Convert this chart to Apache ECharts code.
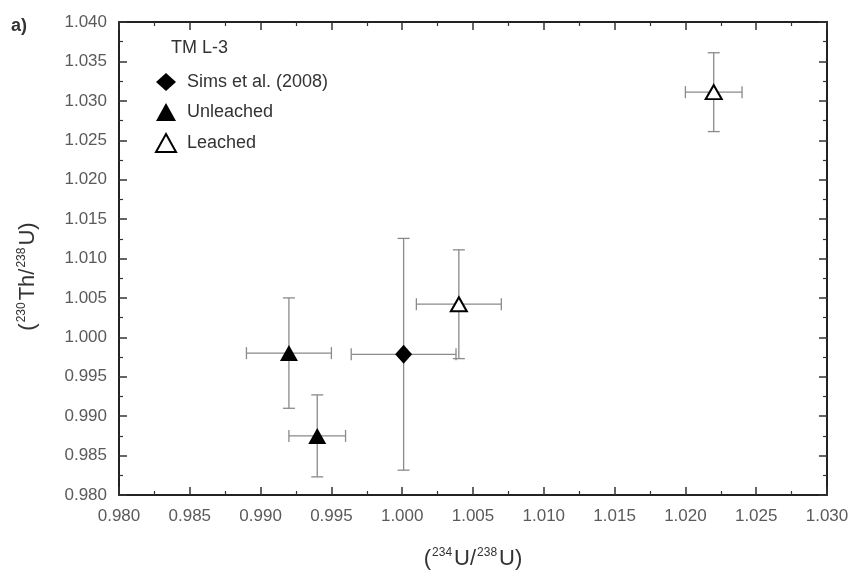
<!DOCTYPE html>
<html>
<head>
<meta charset="utf-8">
<script src="https://cdn.jsdelivr.net/npm/echarts@6/dist/echarts.min.js"></script>
<style>
  html, body { margin: 0; padding: 0; background: #fff; }
  #chart { width: 856px; height: 576px; }
</style>
</head>
<body>
<div id="chart"></div>
<script>
  // [x, y, xErr, yErr]
  var simsData = [[1.0001, 0.99785, 0.0037, 0.0147]];
  var unleachedData = [[0.9920, 0.9980, 0.0030, 0.0070], [0.9940, 0.9875, 0.0020, 0.0052]];
  var leachedData = [[1.0040, 1.0042, 0.0030, 0.0069], [1.0220, 1.0311, 0.0020, 0.0050]];

  var seriesNames = ['Sims et al. (2008)', 'Unleached', 'Leached'];
  var sampleName = 'TM L-3';

  var chartDom = document.getElementById('chart');
  var myChart = echarts.init(chartDom, null, { renderer: 'canvas' });

  var labelColor = '#5a5a5a';
  var barColor = '#8a8a8a';

  function errorBars(data) {
    return {
      type: 'custom',
      silent: true,
      z: 1,
      data: data,
      renderItem: function (params, api) {
        var x = api.value(0), y = api.value(1), ex = api.value(2), ey = api.value(3);
        var l = api.coord([x - ex, y]), r = api.coord([x + ex, y]);
        var t = api.coord([x, y + ey]), b = api.coord([x, y - ey]);
        var c = 6;
        var st = { stroke: barColor, lineWidth: 1.3 };
        return {
          type: 'group',
          children: [
            { type: 'line', shape: { x1: l[0], y1: l[1], x2: r[0], y2: r[1] }, style: st },
            { type: 'line', shape: { x1: l[0], y1: l[1] - c, x2: l[0], y2: l[1] + c }, style: st },
            { type: 'line', shape: { x1: r[0], y1: r[1] - c, x2: r[0], y2: r[1] + c }, style: st },
            { type: 'line', shape: { x1: t[0], y1: t[1], x2: b[0], y2: b[1] }, style: st },
            { type: 'line', shape: { x1: t[0] - c, y1: t[1], x2: t[0] + c, y2: t[1] }, style: st },
            { type: 'line', shape: { x1: b[0] - c, y1: b[1], x2: b[0] + c, y2: b[1] }, style: st }
          ]
        };
      }
    };
  }

  var fmt = function (v) { return v.toFixed(3); };

  var nameRich = {
    p: { fontSize: 22, color: '#333', fontFamily: 'Liberation Sans' },
    s: { fontSize: 12, color: '#333', padding: [0, 2, 11, 1], fontFamily: 'Liberation Sans' }
  };

  var axisCommon = {
    min: 0.980,
    interval: 0.005,
    axisLine: { show: true, onZero: false, lineStyle: { color: '#222', width: 2 } },
    axisTick: { show: true, inside: true, length: 8, lineStyle: { color: '#333', width: 1.5 } },
    minorTick: { show: true, splitNumber: 2, length: 4, lineStyle: { color: '#333', width: 1.2 } },
    splitLine: { show: false }
  };

  var option = {
    animation: false,
    backgroundColor: '#fff',
    textStyle: { fontFamily: 'Liberation Sans, Arial, sans-serif' },
    grid: { left: 119, right: 29, top: 22, bottom: 81 },
    title: [
      { text: 'a)', left: 6, top: 12, textStyle: { fontSize: 18, fontWeight: 'bold', color: '#333', fontFamily: 'Liberation Sans' } },
      { text: sampleName, left: 166, top: 34, textStyle: { fontSize: 18, fontWeight: 'normal', color: '#333', fontFamily: 'Liberation Sans' } }
    ],
    legend: {
      orient: 'vertical',
      left: 150,
      top: 68,
      itemGap: 12,
      itemWidth: 20,
      itemHeight: 18,
      data: seriesNames,
      textStyle: { fontSize: 18, color: '#333', fontFamily: 'Liberation Sans', padding: [0, 0, 0, 6] }
    },
    xAxis: [
      Object.assign({}, axisCommon, {
        type: 'value', max: 1.030, position: 'bottom',
        axisLabel: { color: labelColor, fontSize: 17, margin: 13, formatter: fmt },
        name: '{p|(}{s|234}{p|U/}{s|238}{p|U)}',
        nameLocation: 'middle',
        nameGap: 52,
        nameTextStyle: { rich: nameRich }
      }),
      Object.assign({}, axisCommon, {
        type: 'value', max: 1.030, position: 'top',
        axisLabel: { show: false }
      })
    ],
    yAxis: [
      Object.assign({}, axisCommon, {
        type: 'value', max: 1.040, position: 'left',
        axisLabel: { color: labelColor, fontSize: 17, margin: 12, formatter: fmt },
        name: '{p|(}{s|230}{p|Th/}{s|238}{p|U)}',
        nameLocation: 'middle',
        nameGap: 80,
        nameTextStyle: { rich: nameRich, padding: [0, 36, 0, 0] }
      }),
      Object.assign({}, axisCommon, {
        type: 'value', max: 1.040, position: 'right',
        axisLabel: { show: false }
      })
    ],
    series: [
      errorBars(simsData),
      errorBars(unleachedData),
      errorBars(leachedData),
      {
        name: seriesNames[0], type: 'scatter', z: 3,
        symbol: 'diamond', symbolSize: [17, 19],
        itemStyle: { color: '#000', opacity: 1 },
        data: simsData.map(function (d) { return [d[0], d[1]]; })
      },
      {
        name: seriesNames[1], type: 'scatter', z: 3,
        symbol: 'triangle', symbolSize: [18, 16],
        itemStyle: { color: '#000', opacity: 1 },
        data: unleachedData.map(function (d) { return [d[0], d[1]]; })
      },
      {
        name: seriesNames[2], type: 'scatter', z: 3,
        symbol: 'triangle', symbolSize: [16, 14],
        itemStyle: { color: '#fff', borderColor: '#000', borderWidth: 2, opacity: 1 },
        data: leachedData.map(function (d) { return [d[0], d[1]]; })
      }
    ]
  };

  if (option && typeof option === 'object') {
    myChart.setOption(option);
  }

  window.addEventListener('resize', myChart.resize);
</script>
</body>
</html>
